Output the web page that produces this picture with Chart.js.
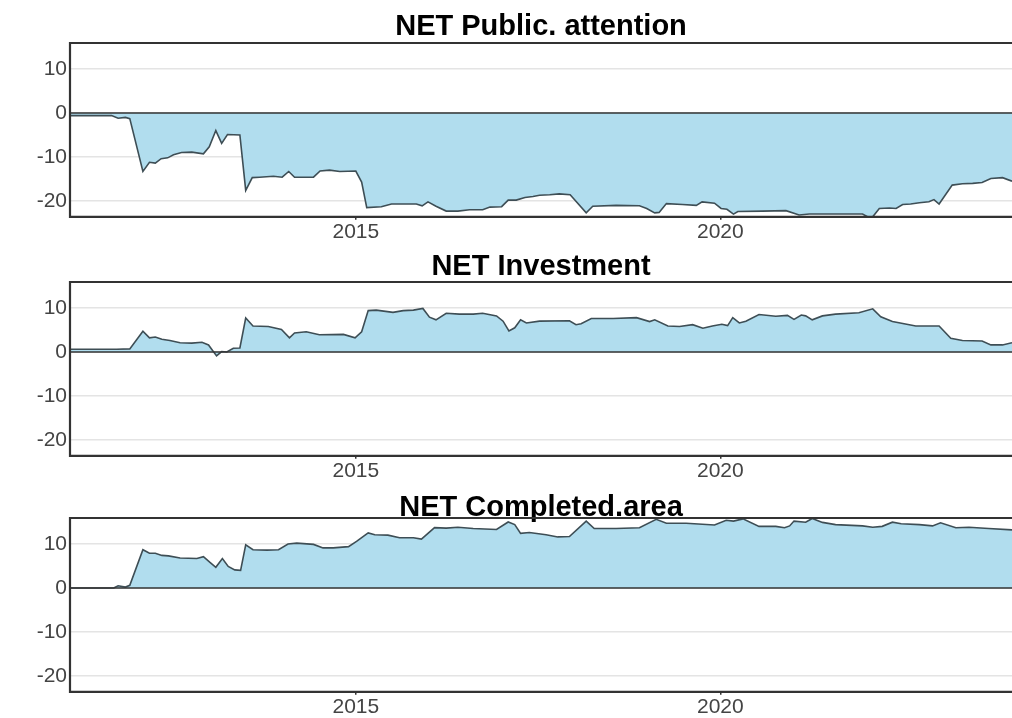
<!DOCTYPE html>
<html>
<head>
<meta charset="utf-8">
<script src="https://cdn.jsdelivr.net/npm/chart.js@4/dist/chart.umd.min.js"></script>
<style>
  html, body { margin: 0; padding: 0; background: #fff; }
  #wrap { position: relative; width: 1012px; height: 718px; overflow: hidden; }
  .panel { position: absolute; left: 0; width: 1012px; height: 245px; }
</style>
</head>
<body>
<div id="wrap">
  <div class="panel" style="top:0px"><canvas id="attentionChart" width="1012" height="245"></canvas></div>
  <div class="panel" style="top:239px"><canvas id="investmentChart" width="1012" height="245"></canvas></div>
  <div class="panel" style="top:475px"><canvas id="completedChart" width="1012" height="245"></canvas></div>
</div>
<script>
/* ===== data ===== */

const X_TICKS = [2015, 2020];
const Y_TICKS = [-20, -10, 0, 10];
const X_MIN = 2011.08;
const X_MAX = 2024.0;
const Y_MIN = -23.6;
const Y_MAX = 15.9;

const TITLES = ['NET Public. attention', 'NET Investment', 'NET Completed.area'];

const attentionYears = [
  2011.08, 2011.65, 2011.74, 2011.84, 2011.9, 2012.08, 2012.17, 2012.25, 2012.33, 2012.42,
  2012.5, 2012.61, 2012.75, 2012.91, 2012.99, 2013.08, 2013.16, 2013.24, 2013.41, 2013.49,
  2013.58, 2013.68, 2013.87, 2013.99, 2014.08, 2014.16, 2014.42, 2014.51, 2014.64, 2014.78,
  2015.0, 2015.08, 2015.15, 2015.35, 2015.49, 2015.69, 2015.83, 2015.91, 2015.99, 2016.1,
  2016.24, 2016.4, 2016.56, 2016.74, 2016.84, 2017.0, 2017.09, 2017.2, 2017.32, 2017.43,
  2017.52, 2017.66, 2017.79, 2017.94, 2018.16, 2018.25, 2018.57, 2018.89, 2018.99, 2019.1,
  2019.16, 2019.26, 2019.48, 2019.67, 2019.75, 2019.92, 2020.01, 2020.09, 2020.18, 2020.24,
  2020.58, 2020.9, 2021.08, 2021.22, 2021.95, 2022.03, 2022.09, 2022.18, 2022.32, 2022.41,
  2022.5, 2022.61, 2022.73, 2022.86, 2022.93, 2023.0, 2023.18, 2023.32, 2023.46, 2023.59,
  2023.71, 2023.87, 2024.0
];
const attentionValues = [
  -0.6, -0.6, -1.2, -1.0, -1.3, -13.3, -11.2, -11.4, -10.4, -10.2,
  -9.5, -9.0, -8.9, -9.3, -7.7, -4.0, -6.9, -4.9, -5.0, -17.6,
  -14.7, -14.6, -14.4, -14.6, -13.3, -14.6, -14.6, -13.2, -13.0, -13.3,
  -13.2, -15.7, -21.5, -21.3, -20.7, -20.7, -20.7, -21.1, -20.2, -21.2,
  -22.3, -22.3, -22.0, -22.0, -21.4, -21.3, -19.8, -19.8, -19.2, -19.0,
  -18.7, -18.6, -18.4, -18.6, -22.7, -21.2, -21.0, -21.1, -21.7, -22.7,
  -22.6, -20.6, -20.8, -21.0, -20.2, -20.5, -21.7, -21.9, -23.0, -22.4,
  -22.3, -22.2, -23.2, -22.95, -22.95, -23.7, -23.6, -21.7, -21.6, -21.7,
  -20.8, -20.7, -20.4, -20.2, -19.7, -20.7, -16.4, -16.1, -16.0, -15.8,
  -14.9, -14.7, -15.5
];

const investmentYears = [
  2011.08, 2011.72, 2011.9, 2012.08, 2012.17, 2012.25, 2012.34, 2012.45, 2012.59, 2012.75,
  2012.89, 2012.98, 2013.09, 2013.16, 2013.23, 2013.32, 2013.41, 2013.49, 2013.59, 2013.8,
  2013.98, 2014.09, 2014.16, 2014.32, 2014.5, 2014.83, 2014.99, 2015.08, 2015.17, 2015.28,
  2015.51, 2015.65, 2015.79, 2015.92, 2016.01, 2016.1, 2016.24, 2016.42, 2016.61, 2016.74,
  2016.93, 2017.02, 2017.1, 2017.18, 2017.26, 2017.34, 2017.52, 2017.93, 2018.02, 2018.09,
  2018.23, 2018.53, 2018.85, 2019.03, 2019.1, 2019.28, 2019.44, 2019.62, 2019.76, 2019.89,
  2020.02, 2020.1, 2020.17, 2020.26, 2020.35, 2020.53, 2020.76, 2020.92, 2021.01, 2021.11,
  2021.17, 2021.26, 2021.4, 2021.58, 2021.9, 2022.09, 2022.2, 2022.36, 2022.68, 2023.0,
  2023.16, 2023.32, 2023.59, 2023.71, 2023.87, 2024.0
];
const investmentValues = [
  0.6, 0.6, 0.7, 4.7, 3.2, 3.4, 2.9, 2.6, 2.1, 2.0,
  2.2, 1.6, -0.9, 0.1, 0.0, 0.85, 0.9, 7.7, 5.9, 5.8,
  5.1, 3.2, 4.3, 4.6, 3.9, 4.0, 3.2, 4.6, 9.4, 9.5,
  9.0, 9.4, 9.5, 9.9, 7.9, 7.3, 8.8, 8.6, 8.6, 8.8,
  8.2, 7.0, 4.8, 5.5, 7.3, 6.6, 7.0, 7.1, 6.2, 6.4,
  7.6, 7.6, 7.8, 6.9, 7.3, 5.9, 5.8, 6.2, 5.4, 5.9,
  6.3, 6.0, 7.8, 6.6, 7.0, 8.5, 8.1, 8.3, 7.4, 8.4,
  8.2, 7.3, 8.2, 8.6, 8.9, 9.8, 8.0, 6.9, 5.9, 5.9,
  3.1, 2.6, 2.5, 1.6, 1.6, 2.1
];

const completedYears = [
  2011.08, 2011.68, 2011.74, 2011.84, 2011.9, 2012.08, 2012.17, 2012.25, 2012.34, 2012.43,
  2012.59, 2012.82, 2012.91, 2013.0, 2013.08, 2013.17, 2013.25, 2013.34, 2013.42, 2013.49,
  2013.59, 2013.78, 2013.94, 2014.07, 2014.19, 2014.42, 2014.55, 2014.69, 2014.9, 2015.01,
  2015.17, 2015.26, 2015.44, 2015.6, 2015.79, 2015.9, 2016.08, 2016.24, 2016.4, 2016.61,
  2016.93, 2017.09, 2017.18, 2017.26, 2017.38, 2017.61, 2017.77, 2017.93, 2018.16, 2018.27,
  2018.57, 2018.89, 2019.12, 2019.26, 2019.53, 2019.92, 2020.08, 2020.18, 2020.31, 2020.53,
  2020.76, 2020.88, 2020.95, 2021.01, 2021.17, 2021.26, 2021.4, 2021.58, 2021.95, 2022.09,
  2022.22, 2022.36, 2022.48, 2022.73, 2022.91, 2023.02, 2023.23, 2023.41, 2023.68, 2024.0
];
const completedValues = [
  0, 0, 0.5, 0.2, 0.6, 8.7, 7.9, 7.9, 7.4, 7.3,
  6.8, 6.7, 7.1, 5.8, 4.7, 6.7, 4.9, 4.1, 4.0, 9.8,
  8.7, 8.6, 8.7, 10.0, 10.2, 9.9, 9.1, 9.1, 9.4, 10.6,
  12.5, 12.1, 12.0, 11.4, 11.4, 11.1, 13.7, 13.6, 13.8, 13.5,
  13.3, 15.0, 14.4, 12.4, 12.6, 12.1, 11.6, 11.7, 15.2, 13.5,
  13.5, 13.7, 15.6, 14.7, 14.7, 14.3, 15.4, 15.2, 15.7, 14.0,
  14.0, 13.7, 14.1, 15.2, 14.95, 15.8, 14.9, 14.4, 14.1, 13.8,
  14.0, 14.95, 14.6, 14.4, 14.1, 14.8, 13.7, 13.8, 13.5, 13.2
];

/* ===== styling ===== */

const FONT = "'Liberation Sans', Arial, Helvetica, sans-serif";
const FILL_COLOR = '#b1ddee';
const LINE_COLOR = '#3e4e55';
const FRAME_COLOR = '#333333';
const GRID_COLOR = '#e4e4e4';
const TICK_COLOR = '#444444';

// draws the panel frame (left / top / bottom) and the zero reference line on top of the area
const panelFrame = {
  id: 'panelFrame',
  afterDatasetsDraw(chart) {
    const { ctx, chartArea: a, scales } = chart;
    const y0 = scales.y.getPixelForValue(0);
    ctx.save();
    ctx.strokeStyle = FRAME_COLOR;
    ctx.lineWidth = 1.6;
    ctx.beginPath();
    ctx.moveTo(a.left, y0);
    ctx.lineTo(a.right, y0);
    ctx.stroke();
    ctx.lineWidth = 2.2;
    ctx.beginPath();
    ctx.moveTo(a.right + 2, a.top);
    ctx.lineTo(a.left, a.top);
    ctx.lineTo(a.left, a.bottom);
    ctx.lineTo(a.right + 2, a.bottom);
    ctx.stroke();
    ctx.restore();
  }
};

function toPoints(xs, ys) {
  return xs.map((x, i) => ({ x: x, y: ys[i] }));
}

function renderPanel(canvasId, title, xs, ys, titlePadding) {
  const ctx = document.getElementById(canvasId).getContext('2d');
  return new Chart(ctx, {
    type: 'line',
    data: {
      datasets: [{
        data: toPoints(xs, ys),
        fill: 'origin',
        backgroundColor: FILL_COLOR,
        borderColor: LINE_COLOR,
        borderWidth: 1.6,
        pointRadius: 0,
        tension: 0,
      }]
    },
    options: {
      responsive: false,
      animation: false,
      devicePixelRatio: 1,
      layout: { padding: 0 },
      plugins: {
        legend: { display: false },
        tooltip: { enabled: false },
        title: {
          display: true,
          text: title,
          fullSize: false,
          color: '#000',
          font: { family: FONT, size: 29, weight: 'bold', lineHeight: 0.6 },
          padding: titlePadding,
        },
      },
      scales: {
        x: {
          type: 'linear',
          min: X_MIN,
          max: X_MAX,
          afterBuildTicks: s => { s.ticks = X_TICKS.map(v => ({ value: v })); },
          ticks: {
            color: TICK_COLOR,
            padding: 0,
            maxRotation: 0,
            font: { family: FONT, size: 21 },
            callback: v => String(v),
          },
          grid: { drawOnChartArea: false, drawTicks: true, tickLength: 3, color: FRAME_COLOR, lineWidth: 1.5 },
          border: { display: false },
        },
        y: {
          min: Y_MIN,
          max: Y_MAX,
          afterBuildTicks: s => { s.ticks = Y_TICKS.map(v => ({ value: v })); },
          afterFit: s => { s.width = 70; },
          ticks: {
            color: TICK_COLOR,
            padding: 3,
            font: { family: FONT, size: 21 },
            callback: v => String(v),
          },
          grid: { color: GRID_COLOR, lineWidth: 1.5, drawTicks: false },
          border: { display: false },
        }
      }
    },
    plugins: [panelFrame]
  });
}

// ===== INIT =====
renderPanel('attentionChart', TITLES[0], attentionYears, attentionValues, { top: 18.3, bottom: 7.3 });
renderPanel('investmentChart', TITLES[1], investmentYears, investmentValues, { top: 18.8, bottom: 6.8 });
renderPanel('completedChart', TITLES[2], completedYears, completedValues, { top: 23.8, bottom: 1.8 });
</script>
</body>
</html>
